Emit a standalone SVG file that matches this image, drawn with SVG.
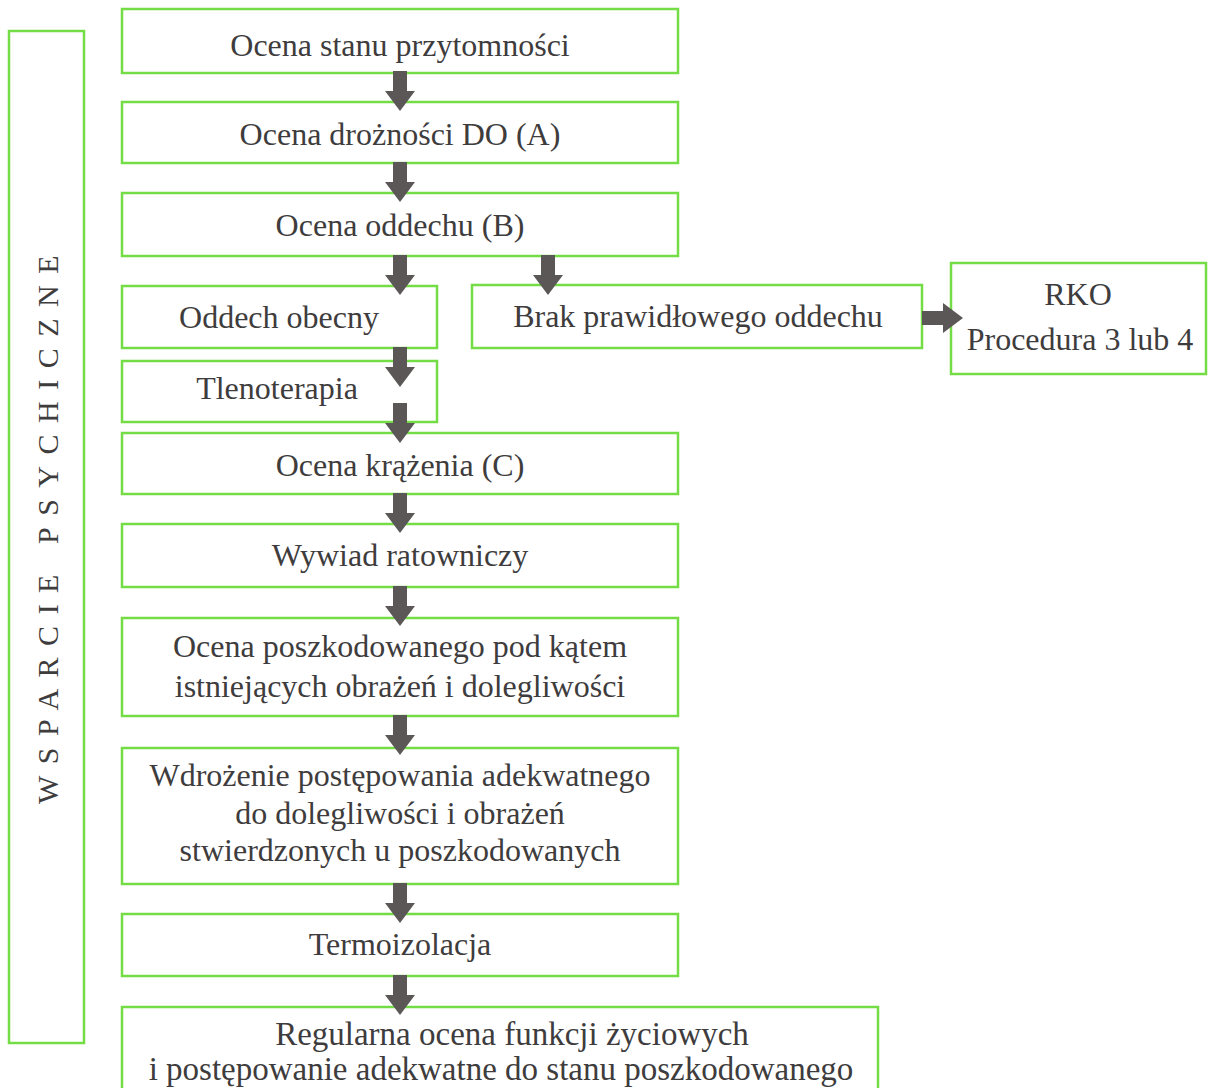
<svg xmlns="http://www.w3.org/2000/svg" width="1211" height="1088" viewBox="0 0 1211 1088">
<defs>
<style>
.box{fill:#ffffff;stroke:#74dd45;stroke-width:2.5}
.t{font-family:"Liberation Serif","Times New Roman",serif;font-size:32px;fill:#3e3c3d;text-anchor:middle}
.b{font-size:33px}
.v{font-family:"Liberation Serif","Times New Roman",serif;font-size:30px;fill:#3e3c3d;text-anchor:middle;letter-spacing:11.5px}
.arr{fill:#5b5757}
</style>
<path id="down" d="M-7,0 L7,0 L7,20 L15,20 L0,40 L-15,20 L-7,20 Z"/>
</defs>
<rect width="1211" height="1088" fill="#ffffff"/>

<g id="n-wsparcie">
<rect class="box" x="9" y="31" width="75" height="1012"/>
<text class="v" transform="translate(58,524) rotate(-90)">WSPARCIE PSYCHICZNE</text>
</g>
<g id="n1"><rect class="box" x="122" y="9" width="556" height="64"/><text class="t" x="400" y="56">Ocena stanu przytomności</text></g>
<g id="n2"><rect class="box" x="122" y="102" width="556" height="61"/><text class="t" x="400" y="145">Ocena drożności DO (A)</text></g>
<g id="n3"><rect class="box" x="122" y="193" width="556" height="63"/><text class="t" x="400" y="236">Ocena oddechu (B)</text></g>
<g id="n4"><rect class="box" x="122" y="286" width="315" height="62"/><text class="t" x="279" y="328">Oddech obecny</text></g>
<g id="n5"><rect class="box" x="472" y="285" width="450" height="63"/><text class="t" x="698" y="327">Brak prawidłowego oddechu</text></g>
<g id="n6"><rect class="box" x="951" y="263" width="255" height="111"/><text class="t" x="1078" y="305">RKO</text><text class="t" x="1080" y="350">Procedura 3 lub 4</text></g>
<g id="n7"><rect class="box" x="122" y="361" width="315" height="61"/><text class="t" x="277" y="399">Tlenoterapia</text></g>
<g id="n8"><rect class="box" x="122" y="433" width="556" height="61"/><text class="t" x="400" y="476">Ocena krążenia (C)</text></g>
<g id="n9"><rect class="box" x="122" y="524" width="556" height="63"/><text class="t" x="400" y="566">Wywiad ratowniczy</text></g>
<g id="n10"><rect class="box" x="122" y="618" width="556" height="98"/><text class="t" x="400" y="657">Ocena poszkodowanego pod kątem</text><text class="t" x="400" y="697">istniejących obrażeń i dolegliwości</text></g>
<g id="n11"><rect class="box" x="122" y="748" width="556" height="136"/><text class="t" x="400" y="786">Wdrożenie postępowania adekwatnego</text><text class="t" x="400" y="824">do dolegliwości i obrażeń</text><text class="t" x="400" y="861">stwierdzonych u poszkodowanych</text></g>
<g id="n12"><rect class="box" x="122" y="914" width="556" height="62"/><text class="t" x="400" y="955">Termoizolacja</text></g>
<g id="n13"><rect class="box" x="122" y="1007" width="756" height="100"/><text class="t b" x="512" y="1045">Regularna ocena funkcji życiowych</text><text class="t b" x="501" y="1080">i postępowanie adekwatne do stanu poszkodowanego</text></g>

<g id="connectors" class="arr">
<use href="#down" x="400" y="71"/>
<use href="#down" x="400" y="162"/>
<use href="#down" x="400" y="255"/>
<use href="#down" x="548" y="255"/>
<use href="#down" x="400" y="347"/>
<use href="#down" x="400" y="403"/>
<use href="#down" x="400" y="493"/>
<use href="#down" x="400" y="586"/>
<use href="#down" x="400" y="715"/>
<use href="#down" x="400" y="883"/>
<use href="#down" x="400" y="975"/>
<path d="M922,311 L943,311 L943,303 L963,318 L943,333 L943,325 L922,325 Z"/>
</g>
</svg>
